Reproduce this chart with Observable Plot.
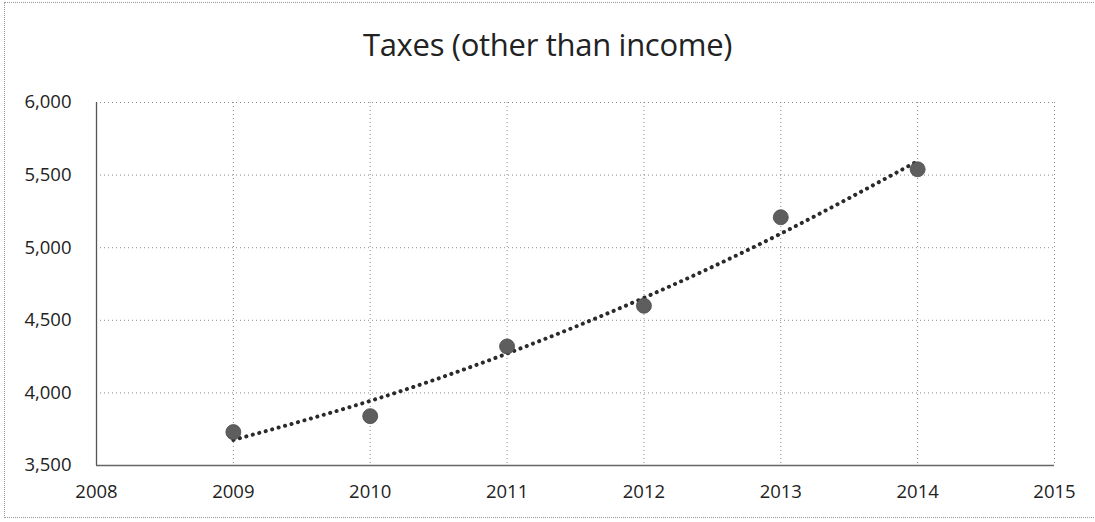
<!DOCTYPE html>
<html><head><meta charset="utf-8">
<script src="https://cdn.jsdelivr.net/npm/d3@7"></script>
<script src="https://cdn.jsdelivr.net/npm/@observablehq/plot@0.6"></script>
<style>
body{margin:0;background:#fff;font-family:"Open Sans",sans-serif}
#wrap{position:relative;width:1095px;height:522px;overflow:hidden;background:#fff}
#frame{position:absolute;left:4px;top:2px;width:1100px;height:516px;border:1px dotted #9a9a9a;box-sizing:border-box;pointer-events:none}
#title{height:80px;display:flex;align-items:center;justify-content:center;font-size:31px;color:#222;padding-top:8px;box-sizing:border-box;letter-spacing:-0.3px}
#chart svg{display:block}
#chart svg text{font-size:18.5px}
</style></head><body>
<div id="wrap"><div id="frame"></div><div id="title">Taxes (other than income)</div><div id="chart"></div></div>
<script>
const years = [2009, 2010, 2011, 2012, 2013, 2014];
const taxes = [3730, 3840, 4320, 4600, 5210, 5540];
const trend = [3676, 3945, 4271, 4655, 5097, 5596];
const xTicks = [2008, 2009, 2010, 2011, 2012, 2013, 2014, 2015];
const yTicks = [3500, 4000, 4500, 5000, 5500, 6000];

const pts = years.map((y, i) => ({year: y, value: taxes[i]}));
const trendPts = years.map((y, i) => ({year: y, value: trend[i]}));

const chart = Plot.plot({
  width: 1095,
  height: 442,
  marginTop: 22,
  marginBottom: 57,
  marginLeft: 96,
  marginRight: 41,
  style: {fontFamily: "'Open Sans', sans-serif", fontSize: "18.5px", color: "#222", background: "transparent"},
  x: {domain: [2008, 2015], ticks: xTicks, tickFormat: d => String(d), tickSize: 0, tickPadding: 19, label: null},
  y: {domain: [3500, 6000], ticks: yTicks, tickFormat: d3.format(","), tickSize: 0, tickPadding: 25, label: null},
  marks: [
    Plot.ruleY(yTicks.slice(1), {stroke: "#8a8a8a", strokeDasharray: "1 3", strokeWidth: 1}),
    Plot.ruleX(xTicks.slice(1), {stroke: "#8a8a8a", strokeDasharray: "1 3", strokeWidth: 1}),
    Plot.ruleX([2008], {stroke: "#555", strokeWidth: 1.3}),
    Plot.ruleY([3500], {stroke: "#666", strokeWidth: 1.6}),
    Plot.line(trendPts, {x: "year", y: "value", curve: "natural", stroke: "#2a2a2a", strokeWidth: 4, strokeDasharray: "0.1 6.6", strokeLinecap: "round"}),
    Plot.dot(pts, {x: "year", y: "value", r: 7.5, fill: "#5e5e5e", stroke: "#4a4a4a", strokeWidth: 0.8})
  ]
});
document.getElementById("chart").appendChild(chart);
</script>
</body></html>
